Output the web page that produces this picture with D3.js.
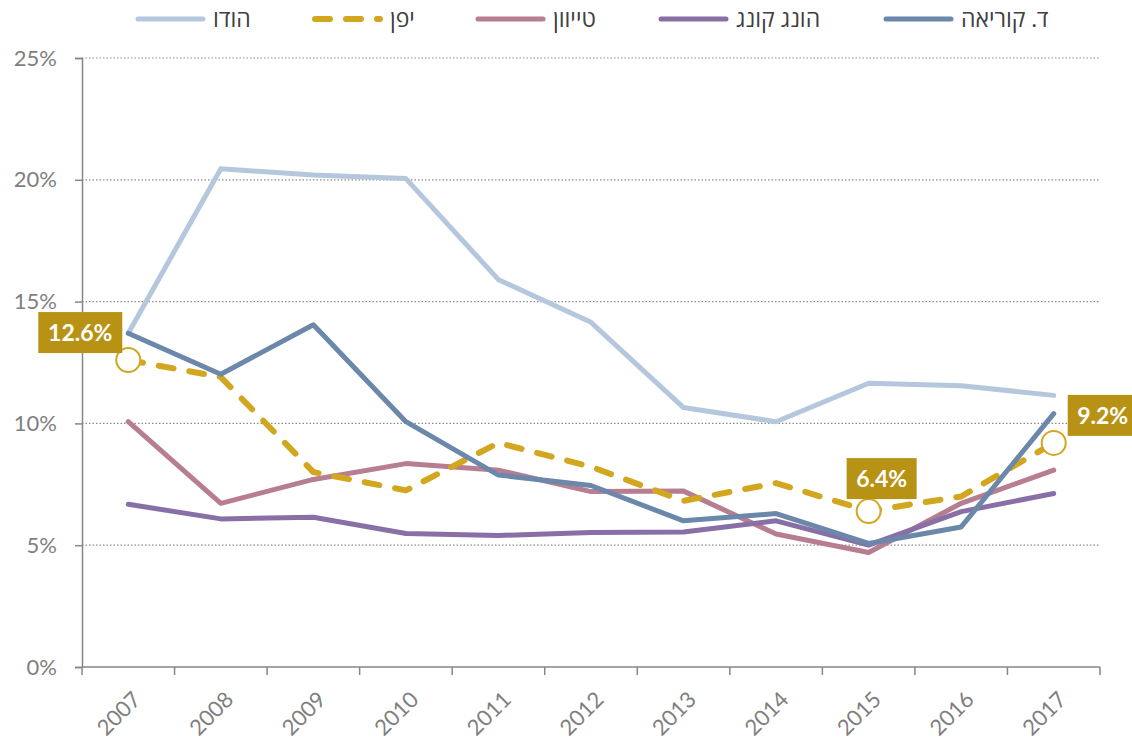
<!DOCTYPE html>
<html>
<head>
<meta charset="utf-8">
<script src="https://cdn.jsdelivr.net/npm/d3@7"></script>
<style>
  body { margin: 0; background: #fff; }
  svg text { font-family: Lato, "Open Sans", "DejaVu Sans", sans-serif; }
</style>
</head>
<body>
<div id="chart"></div>
<script>
// years on the x axis
var years = ["2007", "2008", "2009", "2010", "2011", "2012", "2013", "2014", "2015", "2016", "2017"];

// series values, percent
var india = [13.7, 20.45, 20.2, 20.05, 15.9, 14.15, 10.65, 10.07, 11.65, 11.55, 11.15];
var japan = [12.6, 11.9, 8.0, 7.25, 9.2, 8.22, 6.82, 7.55, 6.4, 7.0, 9.2];
var taiwan = [10.07, 6.72, 7.7, 8.35, 8.08, 7.2, 7.22, 5.46, 4.7, 6.72, 8.08];
var hongKong = [6.68, 6.08, 6.15, 5.48, 5.4, 5.52, 5.54, 6.0, 5.0, 6.38, 7.12];
var korea = [13.7, 12.02, 14.05, 10.07, 7.88, 7.45, 6.0, 6.3, 5.07, 5.75, 10.4];

// y ticks
var yTicks = [0, 5, 10, 15, 20, 25];

// legend names (hebrew)
var legendNames = ["הודו", "יפן", "טייוון", "הונג קונג", "ד. קוריאה"];

// japan labelled points: index into years
var labelIdx = [0, 8, 10];

var width = 1132, height = 742;
var margin = { top: 58, right: 32, bottom: 75, left: 82 };

var svg = d3.select("#chart")
  .append("svg")
  .attr("width", width)
  .attr("height", height);

var x = d3.scaleBand()
  .domain(years)
  .range([margin.left, width - margin.right]);

var y = d3.scaleLinear()
  .domain([0, 25])
  .range([height - margin.bottom, margin.top]);

// gridlines (dotted)
svg.append("g")
  .selectAll("line")
  .data(yTicks.filter(function(d) { return d > 0; }))
  .enter()
  .append("line")
  .attr("x1", margin.left)
  .attr("x2", width - margin.right)
  .attr("y1", function(d) { return y(d); })
  .attr("y2", function(d) { return y(d); })
  .attr("stroke", "#8c8c8c")
  .attr("stroke-width", 1.2)
  .attr("stroke-dasharray", "1.5,2");

// y axis
var yAxis = svg.append("g")
  .attr("transform", "translate(" + margin.left + ",0)")
  .call(d3.axisLeft(y).tickValues(yTicks).tickSize(7).tickPadding(18)
    .tickFormat(function(d) { return d + "%"; }));
yAxis.select(".domain").attr("stroke", "#868686").attr("stroke-width", 1.5);
yAxis.selectAll(".tick line").attr("stroke", "#868686").attr("stroke-width", 1.5);
yAxis.selectAll("text")
  .attr("fill", "#7f7f7f")
  .style("font-size", "22px");

// x axis: ticks sit on band edges, labels centred in bands
var edges = years.map(function(d) { return x(d); }).concat([x(years[years.length - 1]) + x.bandwidth()]);
var xg = svg.append("g");
xg.append("line")
  .attr("x1", margin.left)
  .attr("x2", width - margin.right)
  .attr("y1", y(0))
  .attr("y2", y(0))
  .attr("stroke", "#868686")
  .attr("stroke-width", 1.5);
xg.selectAll(".xtick")
  .data(edges)
  .enter()
  .append("line")
  .attr("x1", function(d) { return d; })
  .attr("x2", function(d) { return d; })
  .attr("y1", y(0))
  .attr("y2", y(0) + 8)
  .attr("stroke", "#868686")
  .attr("stroke-width", 1.5);
xg.selectAll(".xlabel")
  .data(years)
  .enter()
  .append("text")
  .attr("transform", function(d) {
    return "translate(" + (x(d) + x.bandwidth() / 2 + 14) + "," + (y(0) + 34) + ") rotate(-45)";
  })
  .attr("text-anchor", "end")
  .attr("fill", "#7f7f7f")
  .style("font-size", "22px")
  .text(function(d) { return d; });

// series
var series = [
  { name: legendNames[0], values: india, color: "#b4c7dd", width: 5, dash: null },
  { name: legendNames[2], values: taiwan, color: "#b77d90", width: 5, dash: null },
  { name: legendNames[3], values: hongKong, color: "#8870a6", width: 5, dash: null },
  { name: legendNames[1], values: japan, color: "#d2a71f", width: 6, dash: "15,16" },
  { name: legendNames[4], values: korea, color: "#6b88aa", width: 5, dash: null }
];

var line = d3.line()
  .x(function(d, i) { return x(years[i]) + x.bandwidth() / 2; })
  .y(function(d) { return y(d); });

svg.append("g")
  .selectAll("path")
  .data(series)
  .enter()
  .append("path")
  .attr("d", function(d) { return line(d.values); })
  .attr("fill", "none")
  .attr("stroke", function(d) { return d.color; })
  .attr("stroke-width", function(d) { return d.width; })
  .attr("stroke-dasharray", function(d) { return d.dash; })
  .attr("stroke-linecap", "round")
  .attr("stroke-linejoin", "round");

// japan highlighted points
var px = function(i) { return x(years[i]) + x.bandwidth() / 2; };
svg.append("g")
  .selectAll("circle")
  .data(labelIdx)
  .enter()
  .append("circle")
  .attr("cx", function(i) { return px(i); })
  .attr("cy", function(i) { return y(japan[i]); })
  .attr("r", 12)
  .attr("fill", "#fff")
  .attr("stroke", "#d2a71f")
  .attr("stroke-width", 2);

// label boxes: offsets of box left / bottom relative to the point
var labelOffsets = [
  { dx: -90, dy: -7, w: 84 },
  { dx: -22, dy: -12, w: 70 },
  { dx: 14, dy: -7, w: 70 }
];
var labels = svg.append("g")
  .selectAll("g")
  .data(labelIdx)
  .enter()
  .append("g")
  .attr("transform", function(i, k) {
    var o = labelOffsets[k];
    return "translate(" + (px(i) + o.dx) + "," + (y(japan[i]) + o.dy - 41) + ")";
  });
labels.append("rect")
  .attr("width", function(i, k) { return labelOffsets[k].w; })
  .attr("height", 41)
  .attr("fill", "#b89215");
labels.append("text")
  .attr("x", function(i, k) { return labelOffsets[k].w / 2; })
  .attr("y", 29)
  .attr("text-anchor", "middle")
  .attr("fill", "#fff")
  .style("font-size", "23px")
  .style("font-weight", "bold")
  .text(function(i) { return japan[i].toFixed(1) + "%"; });

// legend
var legendItems = [
  { name: legendNames[0], color: "#b4c7dd", x: 135, dash: null, w: 5 },
  { name: legendNames[1], color: "#d2a71f", x: 312, dash: "15,16", w: 6 },
  { name: legendNames[2], color: "#b77d90", x: 475, dash: null, w: 5 },
  { name: legendNames[3], color: "#8870a6", x: 658, dash: null, w: 5 },
  { name: legendNames[4], color: "#6b88aa", x: 883, dash: null, w: 5 }
];
var legend = svg.append("g")
  .selectAll("g")
  .data(legendItems)
  .enter()
  .append("g")
  .attr("transform", function(d) { return "translate(" + d.x + ",19)"; });
legend.append("line")
  .attr("x1", 3)
  .attr("x2", 68)
  .attr("stroke", function(d) { return d.color; })
  .attr("stroke-width", function(d) { return d.w; })
  .attr("stroke-dasharray", function(d) { return d.dash; })
  .attr("stroke-linecap", "round");
legend.append("text")
  .attr("x", 78)
  .attr("y", 8)
  .attr("fill", "#404040")
  .style("font-size", "23px")
  .text(function(d) { return d.name; });
</script>
</body>
</html>
